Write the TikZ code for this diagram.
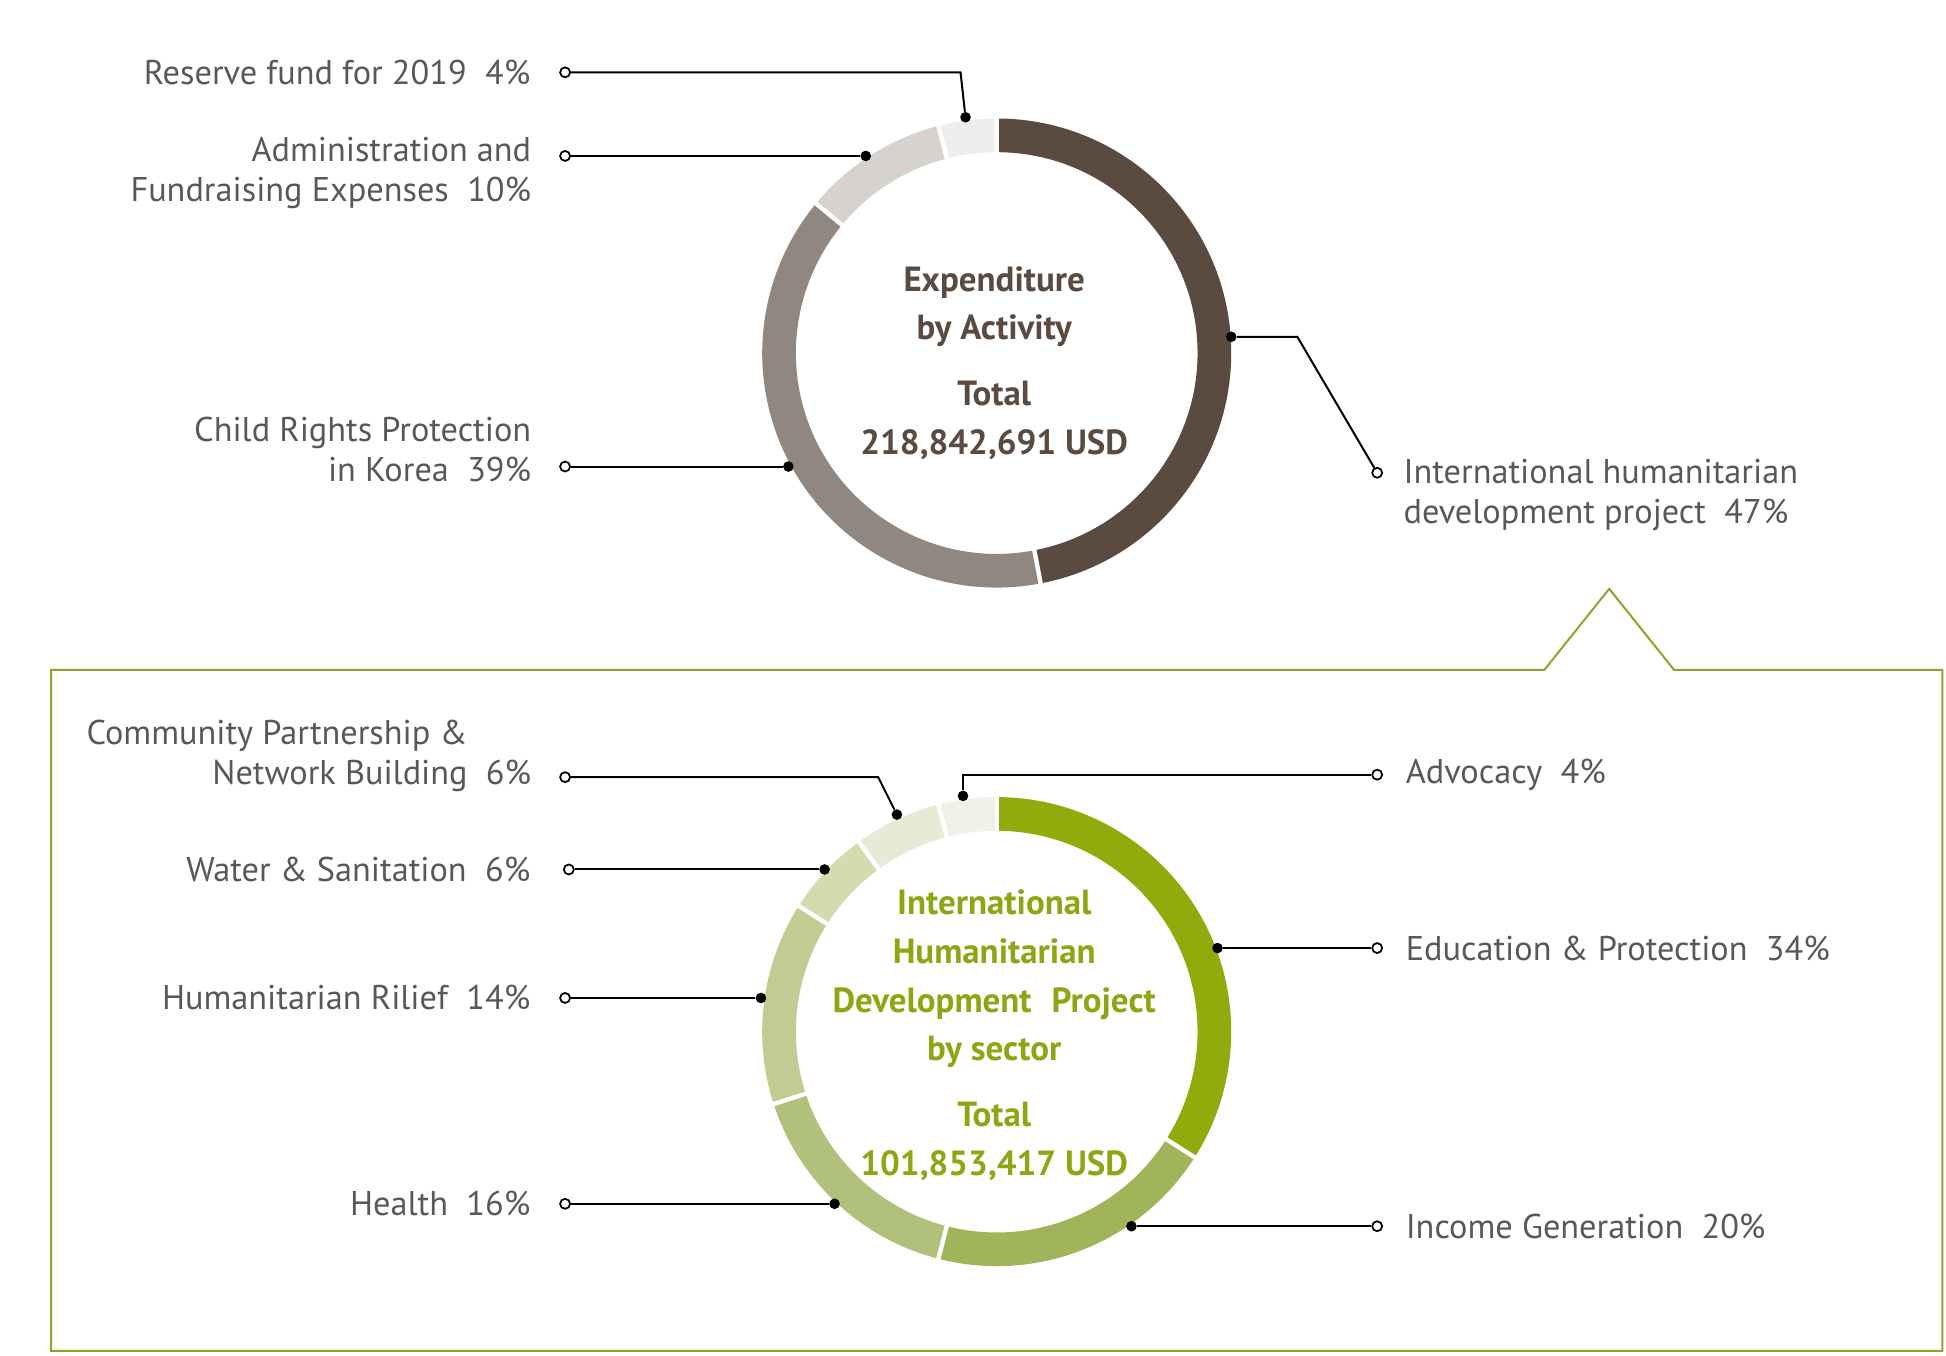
\documentclass[tikz,border=0pt]{standalone}
\usepackage{fontspec}
\setmainfont{PT Sans}
\usetikzlibrary{positioning}

\definecolor{actA}{HTML}{5B4A3F}
\definecolor{actB}{HTML}{918781}
\definecolor{actC}{HTML}{D6D2CE}
\definecolor{actD}{HTML}{EFEEEC}
\definecolor{secA}{HTML}{90AB0C}
\definecolor{secB}{HTML}{A2B45A}
\definecolor{secC}{HTML}{B1C07B}
\definecolor{secD}{HTML}{C0CC92}
\definecolor{secE}{HTML}{D3DCAE}
\definecolor{secF}{HTML}{E6EBD6}
\definecolor{secG}{HTML}{EFF2E6}
\definecolor{txtgray}{HTML}{58585A}
\definecolor{txtgreen}{HTML}{8BA814}
\definecolor{boxgreen}{HTML}{8DA52C}

\begin{document}
\begin{tikzpicture}[x=1pt,y=-1pt,
  lbl/.style={font=\fontsize{27.5}{32}\selectfont,text=txtgray,inner sep=0pt},
  title/.style={font=\bfseries\fontsize{28}{39}\selectfont,align=center,inner sep=0pt},
  opendot/.style={circle,draw,fill=white,line width=1.4pt,inner sep=0pt,minimum size=8pt},
  enddot/.style={circle,fill=black,inner sep=0pt,minimum size=8.5pt},
  conn/.style={line width=1.6pt}]

  \useasboundingbox (0,0) rectangle (1560,1087);

  \coordinate (act) at (799,283);
  \coordinate (sec) at (799,827);

  % expenditure by activity
  \foreach \a/\b/\c in {-90/79.2/actA, 79.2/219.6/actB, 219.6/255.6/actC, 255.6/270/actD}
    \draw[\c, line width=27pt] (act) ++(\a:174.5) arc[start angle=\a, end angle=\b, radius=174.5];
  \foreach \a in {79.2, 219.6, 255.6, 270}
    \draw[white, line width=3.5pt] (act) ++(\a:158) -- ++(\a:34);

  \node[title, text=actA] (acttitle) at (797,291)
    {Expenditure\\by Activity\\[14pt]Total\\218,842,691 USD};

  % green box
  \draw[boxgreen, line width=1.6pt] (41,537) -- (1238,537) -- (1290,472) -- (1342,537)
    -- (1557,537) -- (1557,1083) -- (41,1083) -- cycle;

  % sectors
  \foreach \a/\b/\c in {-90/32.4/secA, 32.4/104.4/secB, 104.4/162/secC, 162/212.4/secD,
                        212.4/234/secE, 234/255.6/secF, 255.6/270/secG}
    \draw[\c, line width=27pt] (sec) ++(\a:174.5) arc[start angle=\a, end angle=\b, radius=174.5];
  \foreach \a in {32.4, 104.4, 162, 212.4, 234, 255.6, 270}
    \draw[white, line width=3.5pt] (sec) ++(\a:158) -- ++(\a:34);

  \node[title, text=txtgreen] (sectitle) at (797,830)
    {International\\Humanitarian\\Development\hspace{16pt}Project\\by sector\\[14pt]Total\\101,853,417 USD};

  % end points
  \node[opendot] (o-res) at (453,58) {};
  \node[opendot] (o-adm) at (453,125) {};
  \node[opendot] (o-chi) at (453,374) {};
  \node[opendot] (o-int) at (1104,379) {};
  \node[opendot] (o-com) at (453,623) {};
  \node[opendot] (o-wat) at (456,697) {};
  \node[opendot] (o-rel) at (453,800) {};
  \node[opendot] (o-hea) at (453,965) {};
  \node[opendot] (o-adv) at (1104,621) {};
  \node[opendot] (o-edu) at (1104,760) {};
  \node[opendot] (o-inc) at (1104,983) {};

  \node[enddot] (d-res) at (774,94) {};
  \node[enddot] (d-adm) at (694,125) {};
  \node[enddot] (d-chi) at (632,374) {};
  \node[enddot] (d-int) at (987,270) {};
  \node[enddot] (d-com) at (719,653) {};
  \node[enddot] (d-wat) at (661,697) {};
  \node[enddot] (d-rel) at (610,800) {};
  \node[enddot] (d-hea) at (669,965) {};
  \node[enddot] (d-adv) at (772,638) {};
  \node[enddot] (d-edu) at (976,760) {};
  \node[enddot] (d-inc) at (907,983) {};

  \foreach \s/\t in {o-adm/d-adm, o-chi/d-chi, o-wat/d-wat, o-rel/d-rel,
                     o-hea/d-hea, o-edu/d-edu, o-inc/d-inc}
    \draw[conn] (\s) -- (\t);
  \draw[conn] (o-res) -- (770,58) -- (d-res);
  \draw[conn] (o-int) -- (1040,270) -- (d-int);
  \draw[conn] (o-com) -- (704,623) -- (d-com);
  \draw[conn] (o-adv) -- (772,621) -- (d-adv);

  % labels
  \node[lbl, left=23pt of o-res] (res) {Reserve fund for 2019~~4\%};
  \node[lbl, align=right, anchor=east] (adm) at (426,139)
    {Administration and\\Fundraising Expenses~~10\%};
  \node[lbl, align=right, anchor=east] (chi) at (426,360)
    {Child Rights Protection\\in Korea~~39\%};
  \node[lbl, align=left, anchor=west] (int) at (1125,397)
    {International humanitarian\\development project~~47\%};
  \node[lbl, align=right, anchor=east] (com) at (426,606)
    {Community Partnership \&\hspace*{51pt}\\Network Building~~6\%};
  \node[lbl, left=26pt of o-wat] (wat) {Water \& Sanitation~~6\%};
  \node[lbl, left=23pt of o-rel] (rel) {Humanitarian Rilief~~14\%};
  \node[lbl, left=23pt of o-hea] (hea) {Health~~16\%};
  \node[lbl, right=18pt of o-adv] (adv) {Advocacy~~4\%};
  \node[lbl, right=18pt of o-edu] (edu) {Education \& Protection~~34\%};
  \node[lbl, right=18pt of o-inc] (inc) {Income Generation~~20\%};

\end{tikzpicture}
\end{document}
